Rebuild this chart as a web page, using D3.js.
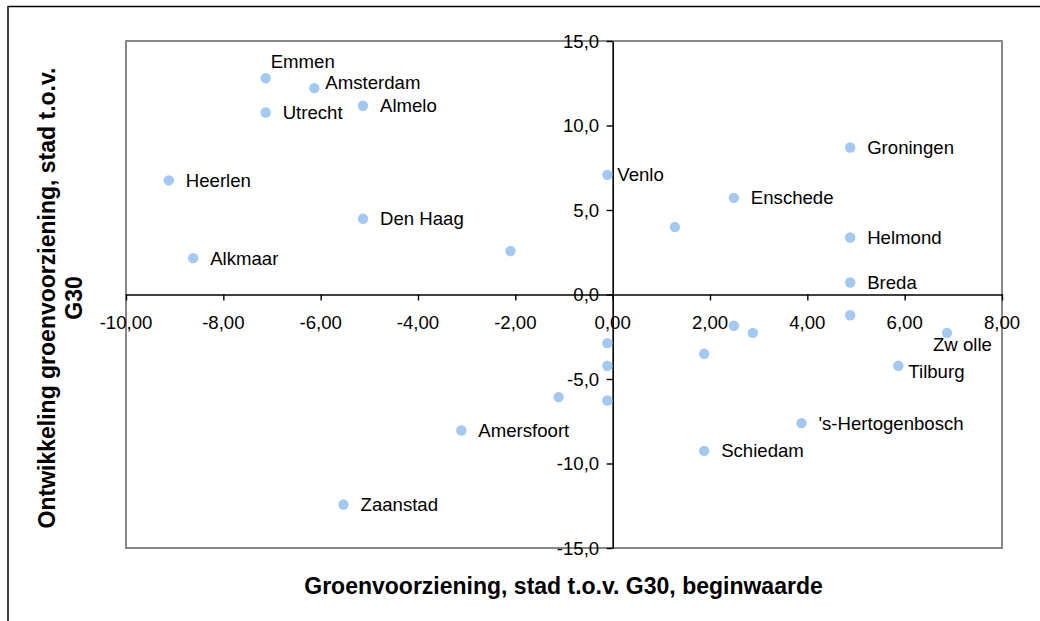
<!DOCTYPE html>
<html>
<head>
<meta charset="utf-8">
<script src="https://cdn.jsdelivr.net/npm/d3@7"></script>
<style>
  html, body { margin: 0; padding: 0; background: #fff; }
  svg { display: block; font-family: "Liberation Sans", Arial, sans-serif; }
</style>
</head>
<body>
<svg id="chart" width="1040" height="621"></svg>
<script>
// ---- data ----
const cities = ["Emmen", "Amsterdam", "Utrecht", "Almelo", "Heerlen", "Den Haag", "Alkmaar", "",
  "Venlo", "", "Enschede", "Groningen", "Helmond", "Breda", "", "", "", "Zwolle", "", "Tilburg",
  "", "", "", "", "'s-Hertogenbosch", "Schiedam", "Amersfoort", "Zaanstad"];
const xValues = [-7.13, -6.13, -7.13, -5.13, -9.12, -5.13, -8.62, -2.10,
  -0.11, 1.28, 2.49, 4.88, 4.88, 4.88, 4.88, 2.49, 2.88, 6.87, 1.88, 5.87,
  -0.11, -0.11, -0.11, -1.11, 3.88, 1.88, -3.11, -5.53];
const yValues = [12.80, 12.21, 10.77, 11.17, 6.75, 4.48, 2.15, 2.57,
  7.08, 3.99, 5.72, 8.70, 3.37, 0.71, -1.23, -1.85, -2.27, -2.27, -3.51, -4.22,
  -2.88, -4.22, -6.27, -6.07, -7.61, -9.25, -8.05, -12.43];
const xTicks = [-10, -8, -6, -4, -2, 0, 2, 4, 6, 8];
const yTicks = [-15, -10, -5, 0, 5, 10, 15];
const xTitle = "Groenvoorziening, stad t.o.v. G30, beginwaarde";
const yTitleLines = ["Ontwikkeling groenvoorziening, stad t.o.v.", "G30"];

// label placement (style only)
const labelPlacement = {
  "Emmen": { dx: 5, dy: -17 },
  "Amsterdam": { dx: 11, dy: -6 },
  "Venlo": { dx: 10, dy: 0 },
  "Zwolle": { dx: -14, dy: 12 },
  "Tilburg": { dx: 10, dy: 6 }
};

// ---- chart ----
const svg = d3.select("#chart");
const L = 126, R = 1002, T = 41, B = 548;
const FS = 18.6, TFS = 23;
const x = d3.scaleLinear().domain([-10, 8]).range([L, R]);
const y = d3.scaleLinear().domain([-15, 15]).range([B, T]);
const fmtX = v => d3.format(".2f")(v).replace(".", ",").replace("−", "-");
const fmtY = v => d3.format(".1f")(v).replace(".", ",").replace("−", "-");

// outer frame (top & left visible)
svg.append("line").attr("x1", 8).attr("x2", 1040).attr("y1", 6.5).attr("y2", 6.5)
  .attr("stroke", "#000").attr("stroke-width", 1.5);
svg.append("line").attr("x1", 8).attr("x2", 8).attr("y1", 6).attr("y2", 621)
  .attr("stroke", "#000").attr("stroke-width", 1.5);

// plot area border
svg.append("rect").attr("x", L).attr("y", T).attr("width", R - L).attr("height", B - T)
  .attr("fill", "none").attr("stroke", "#888").attr("stroke-width", 2);

// x axis through y=0
const xAxis = d3.axisBottom(x).tickValues(xTicks).tickSize(6).tickSizeOuter(0).tickFormat(() => "");
const gx = svg.append("g").attr("transform", `translate(0,${y(0)})`).call(xAxis);
gx.select(".domain").attr("stroke", "#000").attr("stroke-width", 1.6);
gx.selectAll(".tick line").attr("stroke", "#000").attr("stroke-width", 1.4);

// y axis through x=0
const yAxis = d3.axisLeft(y).tickValues(yTicks).tickSize(6).tickSizeOuter(0).tickFormat(() => "");
const gy = svg.append("g").attr("transform", `translate(${x(0)},0)`).call(yAxis);
gy.select(".domain").attr("stroke", "#000").attr("stroke-width", 1.6);
gy.selectAll(".tick line").attr("stroke", "#000").attr("stroke-width", 1.4);

// tick labels
svg.append("g").selectAll("text").data(xTicks).join("text")
  .attr("x", d => x(d)).attr("y", y(0) + 34.5)
  .attr("text-anchor", "middle").attr("font-size", FS).attr("fill", "#000")
  .text(fmtX);
svg.append("g").selectAll("text").data(yTicks).join("text")
  .attr("x", x(0) - 13.5).attr("y", d => y(d)).attr("dy", "0.35em")
  .attr("text-anchor", "end").attr("font-size", FS).attr("fill", "#000")
  .text(fmtY);

// points
const pts = cities.map((c, i) => ({ name: c, x: xValues[i], y: yValues[i] }));
svg.append("g").selectAll("circle").data(pts).join("circle")
  .attr("cx", d => x(d.x)).attr("cy", d => y(d.y)).attr("r", 5.2)
  .attr("fill", "#A3C8F2");

// labels
svg.append("g").selectAll("text").data(pts.filter(d => d.name)).join("text")
  .attr("x", d => x(d.x) + (labelPlacement[d.name] ? labelPlacement[d.name].dx : 17))
  .attr("y", d => y(d.y) + (labelPlacement[d.name] ? labelPlacement[d.name].dy : 0))
  .attr("dy", "0.35em").attr("font-size", FS).attr("fill", "#000")
  .text(d => d.name === "Zwolle" ? "Zw olle" : d.name);

// axis titles
svg.append("text").attr("x", 563.5).attr("y", 594)
  .attr("text-anchor", "middle").attr("font-size", TFS).attr("font-weight", "bold")
  .attr("fill", "#000").text(xTitle);
const yt = svg.append("text").attr("transform", "translate(47,298) rotate(-90)")
  .attr("text-anchor", "middle").attr("font-size", TFS).attr("font-weight", "bold").attr("fill", "#000");
yTitleLines.forEach((t, i) => {
  yt.append("tspan").attr("x", 0).attr("y", i * 27).attr("dy", "0.35em").text(t);
});
</script>
</body>
</html>
